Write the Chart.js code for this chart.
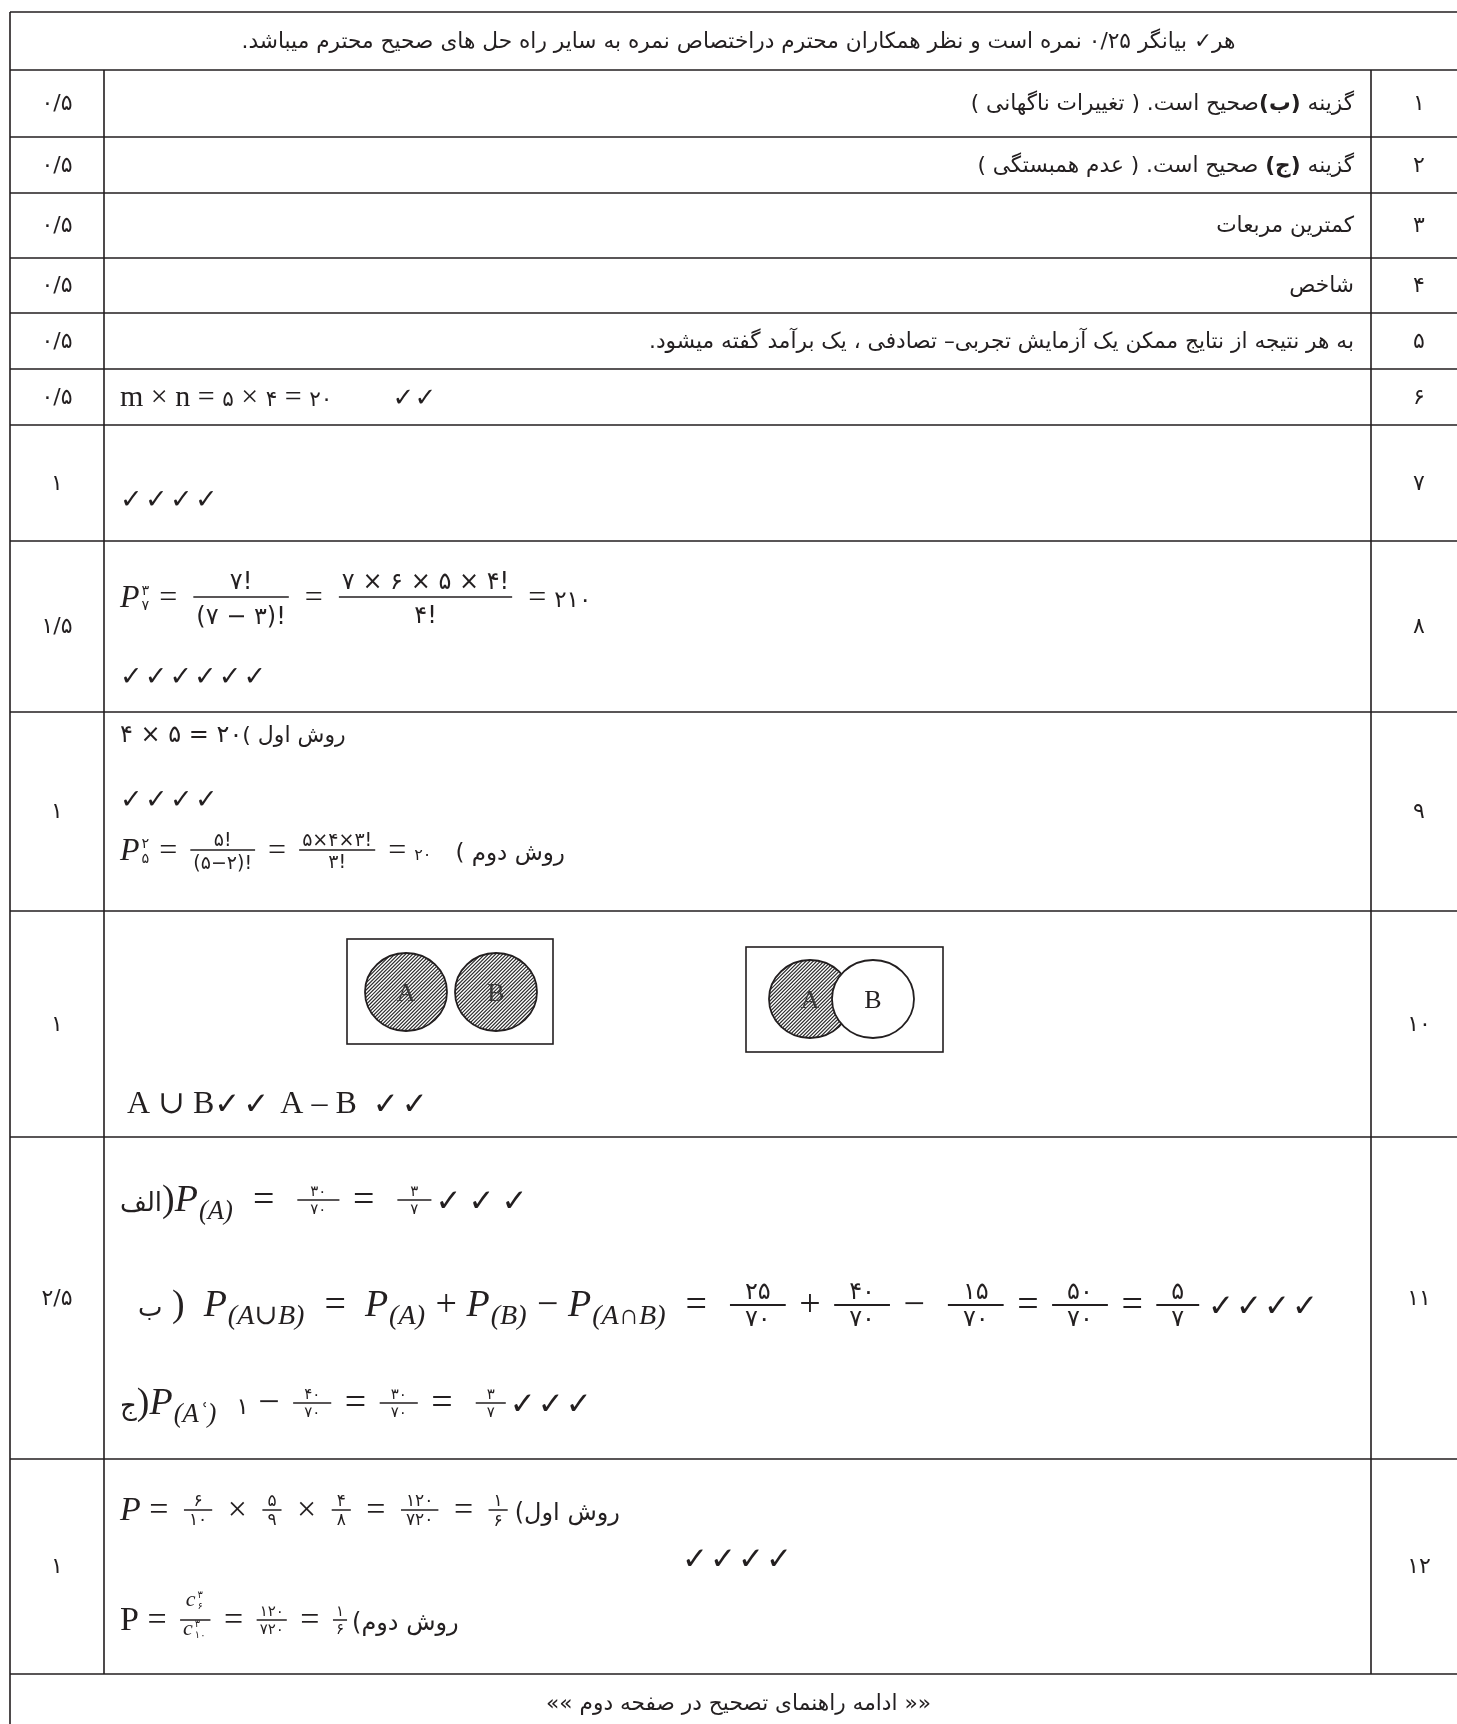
<!DOCTYPE html>
<html>
<head>
<meta charset="utf-8">
<script src="https://cdn.jsdelivr.net/npm/chart.js@4.4.0/dist/chart.umd.min.js"></script>
<style>
html, body { margin: 0; padding: 0; background: #fff; overflow: hidden; }
#wrap { width: 1457px; height: 1724px; }
</style>
</head>
<body>
<div id="wrap"><canvas id="mycanvas" width="1457" height="1724"></canvas></div>
<script>
// question numbers and marks
var questionNumbers = ['۱', '۲', '۳', '۴', '۵', '۶', '۷', '۸', '۹', '۱۰', '۱۱', '۱۲'];
var scores = ['۰/۵', '۰/۵', '۰/۵', '۰/۵', '۰/۵', '۰/۵', '۱', '۱/۵', '۱', '۱', '۲/۵', '۱'];

var headerText = 'هر✓ بیانگر ۰/۲۵ نمره است و نظر همکاران محترم دراختصاص نمره به سایر راه حل های صحیح محترم میباشد.';
var footerText = '«« ادامه راهنمای تصحیح در صفحه دوم »»';

// rows 1-5: [text, bold]
var textAnswers = [
	[['گزینه ', 0], ['(ب)', 1], ['صحیح است. ( تغییرات ناگهانی )', 0]],
	[['گزینه ', 0], ['(ج)', 1], [' صحیح است. ( عدم همبستگی )', 0]],
	[['کمترین مربعات', 0]],
	[['شاخص', 0]],
	[['به هر نتیجه از نتایج ممکن یک آزمایش تجربی– تصادفی ، یک برآمد گفته میشود.', 0]]
];

// rows 6-12, one array of tokens per line
var answer6 = [
	[['mr', 'm × n = '], ['fa', '۵'], ['mr', ' × '], ['fa', '۴'], ['mr', ' = '], ['fa', '۲۰'], ['sp', 8], ['ck', 2]]
];
var answer7 = [
	[['ck', 4]]
];
var answer8 = [
	[['mi', 'P'], ['ss', '۳', '۷'], ['mr', ' = '], ['fr', '۷!', '(۷ − ۳)!'], ['mr', ' = '], ['fr', '۷ × ۶ × ۵ × ۴!', '۴!'], ['mr', ' = '], ['fa', '۲۱۰']],
	[['ck', 6]]
];
var answer9 = [
	[['fa', '۴ × ۵ = ۲۰'], ['fw', '( '], ['fw', 'روش اول']],
	[['ck', 4]],
	[['mi', 'P'], ['ss', '۲', '۵'], ['mr', ' = '], ['fr', '۵!', '(۵−۲)!'], ['mr', ' = '], ['fr', '۵×۴×۳!', '۳!'], ['mr', ' = '], ['fa', '۲۰'], ['sp', 3], ['fw', '( '], ['fw', 'روش دوم']]
];
var answer10 = [
	[['mr', 'A ∪ B'], ['ck', 2], ['mr', ' A – B '], ['sp', 1], ['ck', 2]]
];
var answer11 = [
	[['fw', 'الف'], ['mr', ')'], ['mi', 'P'], ['sub', '(A)'], ['mr', '  =  '], ['fr', '۳۰', '۷۰'], ['mr', ' =  '], ['fr', '۳', '۷'], ['ck', 3]],
	[['fw', 'ب'], ['mr', ' ) '], ['sp', 1], ['mi', 'P'], ['sub', '(A∪B)'], ['mr', '  =  '], ['mi', 'P'], ['sub', '(A)'], ['mr', ' + '], ['mi', 'P'], ['sub', '(B)'],
	 ['mr', ' − '], ['mi', 'P'], ['sub', '(A∩B)'], ['mr', '  =  '], ['fr', '۲۵', '۷۰'], ['mr', ' + '], ['fr', '۴۰', '۷۰'], ['mr', ' −  '], ['fr', '۱۵', '۷۰'],
	 ['mr', ' = '], ['fr', '۵۰', '۷۰'], ['mr', ' = '], ['fr', '۵', '۷'], ['sp', 0.5], ['ck', 4]],
	[['fw', 'ج'], ['mr', ')'], ['mi', 'P'], ['sub', '(Aʿ)'], ['sp', 2], ['fa', '۱'], ['mr', ' − '], ['fr', '۴۰', '۷۰'], ['mr', ' = '], ['fr', '۳۰', '۷۰'], ['mr', ' =  '], ['fr', '۳', '۷'], ['ck', 3]]
];
var answer12 = [
	[['mi', 'P'], ['mr', ' = '], ['fr', '۶', '۱۰'], ['mr', ' × '], ['fr', '۵', '۹'], ['mr', ' × '], ['fr', '۴', '۸'], ['mr', ' = '], ['fr', '۱۲۰', '۷۲۰'], ['mr', ' = '], ['fr', '۱', '۶'], ['fw', '('], ['fw', 'روش اول']],
	[['ck', 4]],
	[['mr', 'P'], ['mr', ' = '], ['fr', [['mi', 'c'], ['ss', '۳', '۶']], [['mi', 'c'], ['ss', '۳', '۱۰']]], ['mr', ' = '], ['fr', '۱۲۰', '۷۲۰'], ['mr', ' = '], ['fr', '۱', '۶'], ['fw', '('], ['fw', 'روش دوم']]
];
var formulaAnswers = { 6: answer6, 7: answer7, 8: answer8, 9: answer9, 10: answer10, 11: answer11, 12: answer12 };

// venn diagrams of question 10
var vennLabels = ['A', 'B'];
var vennShaded = [['A', 'B'], ['A']];

// layout, in page units
var layout = {
	left: 10, top: 12,
	colWidths: [94, 1267, 96],
	headerHeight: 58,
	rowHeights: [67, 56, 65, 55, 56, 56, 116, 171, 199, 226, 322, 215],
	footerHeight: 60,
	textInset: 17,
	persianSize: 22,
	cellSize: 22,
	headerWidth: 994,
	lineStyles: {
		6: [{ dy: 28, dx: 16, size: 30, fa: 0.72, ck: 26, step: 22 }],
		7: [{ dy: 73, dx: 16, size: 30, ck: 27, step: 25 }],
		8: [{ dy: 56, dx: 16, size: 32, fa: 0.72, fr: 24, gap: 8, pad: 3, m: 8 }, { dy: 134, dx: 16, size: 30, ck: 27, step: 24.7 }],
		9: [{ dy: 23, dx: 16, size: 24, fa: 1, fw: 22 }, { dy: 86, dx: 16, size: 30, ck: 27, step: 25 },
			{ dy: 138, dx: 16, size: 32, fa: 0.5, fw: 23, fr: 19, gap: 4, pad: 3, m: 5 }],
		10: [{ dy: 192, dx: 23, size: 32, ck: 31, step: 29 }],
		11: [{ dy: 63, dx: 16, size: 38, fa: 0.75, fw: 26, fr: 15, pad: 13, m: 4, ck: 31, step: 33, gap: 4, subr: 0.7 },
			 { dy: 168, dx: 34, size: 38, fa: 0.75, fw: 26, fr: 24, pad: 15, m: 4, ck: 31, step: 28, gap: 6, bar: 2, subr: 0.74 },
			 { dy: 266, dx: 16, size: 38, fa: 0.6, fw: 26, fr: 15, pad: 11, m: 4, ck: 31, step: 28, gap: 4, subr: 0.7 }],
		12: [{ dy: 51, dx: 16, size: 34, fa: 0.75, fw: 24, fr: 17, pad: 5, m: 7, gap: 4 },
			 { dy: 99, dx: 578, size: 30, ck: 31, step: 28 },
			 { dy: 161, dx: 16, size: 34, fw: 24, fr: 15, frMath: 22, pad: 3, m: 5, gap: 4 }]
	},
	venn: {
		radius: [41, 39],
		diagrams: [
			{ box: [243, 28, 206, 105], centers: [[302, 81], [392, 81]] },
			{ box: [642, 36, 197, 105], centers: [[706, 88], [769, 88]] }
		]
	}
};

var INK = '#231f20';
var FA = "'DejaVu Sans', sans-serif";
var SERIF = "'Liberation Serif', 'DejaVu Serif', serif";

function fontFor(kind, size) {
	if (kind === 'mi') return 'italic ' + size + 'px ' + SERIF;
	if (kind === 'mr') return size + 'px ' + SERIF;
	if (kind === 'ck') return 'bold ' + size + 'px ' + FA;
	return size + 'px ' + FA;
}

function textTok(ctx, kind, s, size, x, base, draw) {
	ctx.font = fontFor(kind, size);
	if (draw) ctx.fillText(s, x, base);
	return ctx.measureText(s).width;
}

function fracPart(ctx, part, st, x, base, draw) {
	if (typeof part === 'string') {
		ctx.font = fontFor('fa', st.fr);
		var m = ctx.measureText(part);
		if (draw) ctx.fillText(part, x, base);
		return { w: m.width, asc: m.actualBoundingBoxAscent, desc: m.actualBoundingBoxDescent };
	}
	var sub = { size: st.frMath, fa: 1 };
	var end = runTokens(ctx, part, sub, x, base - sub.size * 0.3, draw);
	return { w: end - x, asc: sub.size * 0.5, desc: sub.size * 0.45 };
}

function runTokens(ctx, toks, st, x, axis, draw) {
	var base = axis + st.size * 0.3;
	toks.forEach(function (t) {
		var k = t[0];
		if (k === 'mr' || k === 'mi') {
			x += textTok(ctx, k, t[1], st.size, x, base, draw);
		} else if (k === 'fa') {
			x += textTok(ctx, 'fa', t[1], st.size * (st.fa || 1), x, base, draw);
		} else if (k === 'fw') {
			x += textTok(ctx, 'fa', t[1], st.fw || st.size, x, base, draw);
		} else if (k === 'sp') {
			x += st.size * 0.25 * t[1];
		} else if (k === 'sub') {
			x += textTok(ctx, 'mi', t[1], st.size * (st.subr || 0.62), x + 1, base + st.size * 0.2, draw) + 2;
		} else if (k === 'ss') {
			var s = st.size * 0.45;
			var w1 = textTok(ctx, 'fa', t[1], s, x + 2, axis - st.size * 0.05, draw);
			var w2 = textTok(ctx, 'fa', t[2], s, x + 2, axis + st.size * 0.42, draw);
			x += Math.max(w1, w2) + 4;
		} else if (k === 'fr') {
			var gap = st.gap || 4, pad = st.pad || 3, bar = st.bar || 1.5;
			var m = st.m !== undefined ? st.m : st.size * 0.1;
			var n = fracPart(ctx, t[1], st, 0, 0, false);
			var d = fracPart(ctx, t[2], st, 0, 0, false);
			var bw = Math.max(n.w, d.w) + 2 * pad;
			var cx = x + m + bw / 2;
			if (draw) {
				fracPart(ctx, t[1], st, cx - n.w / 2, axis - gap - n.desc, true);
				fracPart(ctx, t[2], st, cx - d.w / 2, axis + gap + d.asc, true);
				ctx.fillRect(x + m, axis - bar / 2, bw, bar);
			}
			x += bw + 2 * m;
		} else if (k === 'ck') {
			ctx.font = fontFor('ck', st.ck);
			var cw = st.step || ctx.measureText('✓').width;
			for (var i = 0; i < t[1]; i++) {
				if (draw) ctx.fillText('✓', x, axis + st.ck * 0.36);
				x += cw;
			}
		}
	});
	return x;
}

// right-to-left text, squeezed or widened by sx
function drawRtl(ctx, pieces, x, yMid, size, sx, align) {
	ctx.save();
	ctx.translate(x, yMid);
	ctx.scale(sx, 1);
	ctx.direction = 'rtl';
	ctx.textAlign = align || 'right';
	var px = 0;
	pieces.forEach(function (p) {
		ctx.font = (p[1] ? 'bold ' : '') + size + 'px ' + FA;
		ctx.fillText(p[0], px, size * 0.3);
		px -= ctx.measureText(p[0]).width;
	});
	ctx.restore();
}

function ellipsePath(ctx, cx, cy, rx, ry) {
	ctx.beginPath();
	ctx.ellipse(cx, cy, rx, ry, 0, 0, Math.PI * 2);
}

var tablePlugin = {
	id: 'answerTable',
	afterDraw: function (chart) {
		var ctx = chart.ctx, xs = chart.scales.x, ys = chart.scales.y;
		var X = function (v) { return xs.getPixelForValue(v); };
		var Y = function (v) { return ys.getPixelForValue(v); };

		// column and row edges
		var colEdges = [layout.left];
		layout.colWidths.forEach(function (w) { colEdges.push(colEdges[colEdges.length - 1] + w); });
		var rowEdges = [layout.top, layout.top + layout.headerHeight];
		layout.rowHeights.forEach(function (h) { rowEdges.push(rowEdges[rowEdges.length - 1] + h); });
		var bottom = rowEdges[rowEdges.length - 1] + layout.footerHeight;
		var tableL = colEdges[0], tableR = colEdges[3];
		var midX = (tableL + tableR) / 2;

		ctx.save();
		ctx.strokeStyle = INK;
		ctx.fillStyle = INK;
		ctx.lineWidth = 1.6;
		ctx.beginPath();
		rowEdges.concat([bottom]).forEach(function (r) {
			ctx.moveTo(X(tableL), Y(r)); ctx.lineTo(X(tableR), Y(r));
		});
		[tableL, tableR].forEach(function (c) {
			ctx.moveTo(X(c), Y(layout.top)); ctx.lineTo(X(c), Y(bottom));
		});
		[colEdges[1], colEdges[2]].forEach(function (c) {
			ctx.moveTo(X(c), Y(rowEdges[1])); ctx.lineTo(X(c), Y(rowEdges[rowEdges.length - 1]));
		});
		ctx.stroke();

		// one horizontal scale for the persian text, measured on the header line
		ctx.font = layout.persianSize + 'px ' + FA;
		ctx.direction = 'rtl';
		var sx = layout.headerWidth / ctx.measureText(headerText).width;
		sx = Math.max(0.8, Math.min(1.2, sx));

		drawRtl(ctx, [[headerText, 0]], X(midX), Y((rowEdges[0] + rowEdges[1]) / 2), layout.persianSize, sx, 'center');
		drawRtl(ctx, [[footerText, 0]], X(midX), Y((rowEdges[rowEdges.length - 1] + bottom) / 2 - 1), layout.persianSize, sx, 'center');

		for (var i = 0; i < questionNumbers.length; i++) {
			var top = rowEdges[i + 1], bot = rowEdges[i + 2], mid = (top + bot) / 2;
			drawRtl(ctx, [[questionNumbers[i], 0]], X((colEdges[2] + colEdges[3]) / 2), Y(mid), layout.cellSize, 1, 'center');
			ctx.save();
			ctx.direction = 'ltr';
			ctx.textAlign = 'center';
			ctx.font = layout.cellSize + 'px ' + FA;
			ctx.fillText(scores[i], X((colEdges[0] + colEdges[1]) / 2), Y(mid) + layout.cellSize * 0.3);
			ctx.restore();

			if (i < textAnswers.length) {
				drawRtl(ctx, textAnswers[i], X(colEdges[2] - layout.textInset), Y(mid), layout.persianSize, sx, 'right');
			}
			var lines = formulaAnswers[i + 1];
			if (lines) {
				ctx.save();
				ctx.direction = 'ltr';
				ctx.textAlign = 'left';
				ctx.textBaseline = 'alphabetic';
				lines.forEach(function (toks, li) {
					var st = layout.lineStyles[i + 1][li];
					runTokens(ctx, toks, st, X(colEdges[1] + st.dx), Y(top + st.dy), true);
				});
				ctx.restore();
			}
			if (i === 9) {
				var rx = layout.venn.radius[0], ry = layout.venn.radius[1];
				layout.venn.diagrams.forEach(function (v, vi) {
					var bx = colEdges[1] + v.box[0], by = top + v.box[1];
					ctx.lineWidth = 1.6;
					ctx.strokeStyle = INK;
					ctx.strokeRect(X(bx), Y(by), X(bx + v.box[2]) - X(bx), Y(by + v.box[3]) - Y(by));
					vennLabels.forEach(function (lab, li) {
						var cx = X(colEdges[1] + v.centers[li][0]), cy = Y(top + v.centers[li][1]);
						var shaded = vennShaded[vi].indexOf(lab) >= 0;
						ellipsePath(ctx, cx, cy, rx, ry);
						ctx.fillStyle = '#fff';
						ctx.fill();
						if (shaded) {
							ctx.save();
							ellipsePath(ctx, cx, cy, rx, ry);
							ctx.clip();
							ctx.strokeStyle = '#2e2e2e';
							ctx.lineWidth = 1.2;
							ctx.beginPath();
							for (var h = -2 * rx - ry; h < 2 * rx + ry; h += 3.6) {
								ctx.moveTo(cx + h - ry - 2, cy + ry + 2);
								ctx.lineTo(cx + h + ry + 2, cy - ry - 2);
							}
							ctx.stroke();
							ctx.restore();
						}
						ellipsePath(ctx, cx, cy, rx, ry);
						ctx.strokeStyle = INK;
						ctx.lineWidth = 1.8;
						ctx.stroke();
						ctx.fillStyle = shaded ? '#3a3a3a' : INK;
						ctx.font = '26px ' + SERIF;
						ctx.textAlign = 'center';
						ctx.direction = 'ltr';
						ctx.fillText(lab, cx, cy + 9);
					});
				});
				ctx.fillStyle = INK;
			}
		}
		ctx.restore();
	}
};

var canvas = document.getElementById('mycanvas');
var answerChart = new Chart(canvas, {
	type: 'scatter',
	data: { datasets: [] },
	options: {
		responsive: false,
		animation: false,
		events: [],
		layout: { padding: 0 },
		plugins: { legend: { display: false }, tooltip: { enabled: false } },
		scales: {
			x: { type: 'linear', min: 0, max: 1457, display: false },
			y: { type: 'linear', min: 0, max: 1724, reverse: true, display: false }
		}
	},
	plugins: [tablePlugin]
});
</script>
</body>
</html>
